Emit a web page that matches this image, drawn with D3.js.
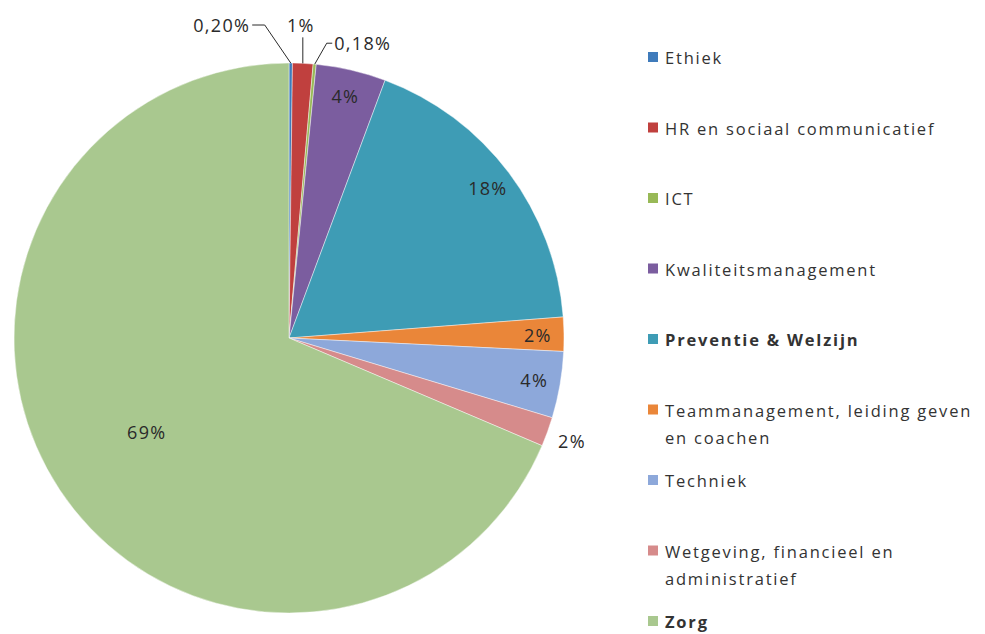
<!DOCTYPE html>
<html>
<head>
<meta charset="utf-8">
<script src="https://cdn.jsdelivr.net/npm/d3@7"></script>
<style>
  html, body { margin: 0; padding: 0; background: #fff; }
  svg { display: block; }
  text { font-family: "Open Sans", "Liberation Sans", sans-serif; }
</style>
</head>
<body>
<svg id="chart" width="985" height="634"></svg>
<script>
// Share of training hours per domain (percent)
const categories = [
  "Ethiek",
  "HR en sociaal communicatief",
  "ICT",
  "Kwaliteitsmanagement",
  "Preventie & Welzijn",
  "Teammanagement, leiding geven en coachen",
  "Techniek",
  "Wetgeving, financieel en administratief",
  "Zorg"
];
const shares = [0.20, 1.2, 0.18, 4.1, 18.1, 2.0, 3.9, 1.72, 68.6];
const boldCategories = ["Preventie & Welzijn", "Zorg"];

const palette = ["#3f7bbb", "#c0403e", "#98b957", "#7b5d9f", "#3e9cb5",
                 "#ea8639", "#8da8da", "#d68b8b", "#a9c88f"];

const svg = d3.select("#chart");
const cx = 289, cy = 338, R = 275;

const data = categories.map((c, i) => ({ name: c, value: shares[i] }));
const color = d3.scaleOrdinal().domain(categories).range(palette);

const pie = d3.pie().value(d => d.value).sort(null);
const arcs = pie(data);
const total = d3.sum(shares);

const fmtPct = v => {
  const p = v / total * 100;
  return p < 1 ? d3.format(".2f")(p).replace(".", ",") + "%" : Math.round(p) + "%";
};

const arc = d3.arc().innerRadius(0).outerRadius(R);
const g = svg.append("g").attr("transform", `translate(${cx},${cy})`);

g.selectAll("path.slice")
  .data(arcs)
  .join("path")
  .attr("class", "slice")
  .attr("d", arc)
  .attr("fill", d => color(d.data.name))
  .attr("stroke", "rgba(255,255,255,0.55)")
  .attr("stroke-width", 0.8);

// Label placement: in-slice labels, a free outside label, and leader-line labels
const radiusFor = d => {
  const frac = d.data.value / total;
  if (frac > 0.5) return R * 0.62;
  return R * 0.905;
};
const pointAt = (d, r) => d3.arc().innerRadius(r).outerRadius(r).centroid(d);

const leaderLabels = {
  "Ethiek": { dx: -69, dy: -38, kind: "left" },
  "HR en sociaal communicatief": { dx: -2, dy: -38, kind: "up" },
  "ICT": { dx: 48, dy: -21, kind: "right" }
};
const outsideLabels = { "Wetgeving, financieel en administratief": R + 26 };

const labelStyle = sel => sel
  .attr("text-anchor", "middle")
  .attr("dominant-baseline", "central")
  .attr("font-size", 18)
  .attr("letter-spacing", 1.3)
  .attr("fill", "#2a2a2a");

arcs.forEach(d => {
  const name = d.data.name;
  const txt = fmtPct(d.data.value);
  if (leaderLabels[name]) {
    const L = leaderLabels[name];
    const a = pointAt(d, R);
    const lx = a[0] + L.dx, ly = a[1] + L.dy;
    const t = g.append("text").attr("x", lx).attr("y", ly).text(txt).call(labelStyle);
    const w = t.node().getComputedTextLength();
    let pts;
    if (L.kind === "left") {
      pts = [[lx + w / 2 + 2, ly], [a[0] - 26, ly], a];
    } else if (L.kind === "right") {
      pts = [[lx - w / 2 - 2, ly], [a[0] + 12, ly], a];
    } else {
      pts = [[a[0], ly + 12], a];
    }
    g.append("path")
      .attr("d", d3.line()(pts))
      .attr("fill", "none")
      .attr("stroke", "#2a2a2a")
      .attr("stroke-width", 1);
  } else {
    const r = outsideLabels[name] || radiusFor(d);
    const p = pointAt(d, r);
    g.append("text").attr("x", p[0]).attr("y", p[1]).text(txt).call(labelStyle);
  }
});

// Legend
const legendY = d3.scalePoint().domain(categories).range([57, 621]);
const legend = svg.append("g").attr("transform", "translate(648,0)");
const maxW = 322;

categories.forEach(name => {
  const y = legendY(name);
  const row = legend.append("g");
  row.append("rect")
    .attr("x", 0).attr("y", y - 5)
    .attr("width", 10).attr("height", 10)
    .attr("fill", color(name));
  const t = row.append("text")
    .attr("x", 17).attr("y", y)
    .attr("dominant-baseline", "central")
    .attr("font-size", 16.5)
    .attr("letter-spacing", 1.8)
    .attr("font-weight", boldCategories.includes(name) ? "bold" : "normal")
    .attr("fill", "#333");
  // wrap long names over several lines
  const words = name.split(" ");
  let line = [];
  let tspan = t.append("tspan").attr("x", 17).attr("dy", 0);
  words.forEach(wd => {
    line.push(wd);
    tspan.text(line.join(" "));
    if (tspan.node().getComputedTextLength() > maxW && line.length > 1) {
      line.pop();
      tspan.text(line.join(" "));
      line = [wd];
      tspan = t.append("tspan").attr("x", 17).attr("dy", 27.5).text(wd);
    }
  });
});
</script>
</body>
</html>
